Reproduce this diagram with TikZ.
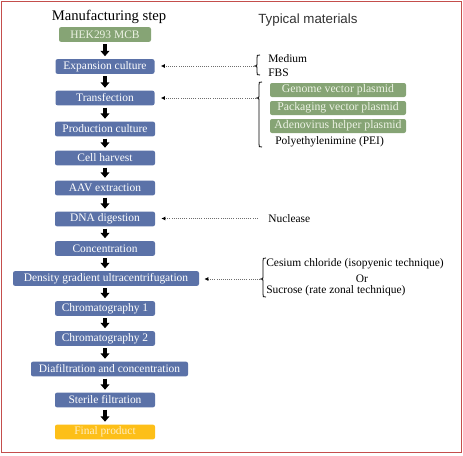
\documentclass[tikz,border=0pt]{standalone}
\usepackage{fontspec}
\setmainfont{Liberation Serif}
\newfontfamily\headsans{Liberation Sans}
\usetikzlibrary{arrows.meta}

\definecolor{stepblue}{RGB}{91,114,168}
\definecolor{matgreen}{RGB}{134,164,117}
\definecolor{matgreentext}{RGB}{236,242,228}
\definecolor{finalgold}{RGB}{253,191,24}
\definecolor{finalgoldtext}{RGB}{255,238,196}
\definecolor{framered}{RGB}{196,78,76}
\definecolor{dotgray}{RGB}{110,110,110}
\definecolor{headgray}{RGB}{50,50,50}

\begin{document}
\begin{tikzpicture}[x=0.75pt,y=0.75pt,yscale=-1,xscale=1,
	stepbox/.style={rectangle,rounded corners=1.5pt,fill=stepblue,text=white,inner sep=1pt,
		minimum width=75pt,minimum height=11pt,font=\fontsize{8.6}{10}\selectfont},
	plasmidbox/.style={rectangle,rounded corners=1.5pt,fill=matgreen,text=matgreentext,inner sep=1pt,
		minimum width=102pt,minimum height=10.5pt,font=\fontsize{8.8}{10}\selectfont},
	matlabel/.style={anchor=west,inner sep=0.75pt,font=\fontsize{8.6}{10}\selectfont},
	steparrow/.style={line width=2.3pt,-{Triangle[width=6.5pt,length=4pt]},shorten <=1.5pt,shorten >=2pt},
	matarrow/.style={densely dotted,draw=dotgray,line width=0.6pt,-{Latex[length=3pt,width=3pt,color=black]}}]
	\useasboundingbox (0,0) rectangle (463,455);
	
	%Frame
	\draw [framered,line width=1.1pt] (1.5,1.5) rectangle (461.5,452.5);
	
	% Headings
	\node (stephead) at (109,17) {\fontsize{11}{12}\selectfont Manufacturing step};
	\node [anchor=west,inner sep=0pt,text=headgray] (mathead) at (258,20) {\headsans\fontsize{10}{12}\selectfont Typical materials};
	
	% Manufacturing steps
	\node [stepbox,fill=matgreen,text=matgreentext,minimum width=69pt] (hek) at (105,34.5) {HEK293 MCB};
	\node [stepbox,minimum width=74.25pt] (expansion) at (105,66.5) {Expansion culture};
	\node [stepbox,minimum width=74.25pt] (transfection) at (105,98) {Transfection};
	\node [stepbox] (production) at (105,129) {Production culture};
	\node [stepbox] (harvest) at (105,158) {Cell harvest};
	\node [stepbox] (aav) at (105,188) {AAV extraction};
	\node [stepbox] (digestion) at (105,219) {DNA digestion};
	\node [stepbox] (concentration) at (105,248.5) {Concentration};
	\node [stepbox,minimum width=139.5pt] (density) at (106,278.5) {Density gradient ultracentrifugation};
	\node [stepbox] (chrom1) at (105,308.5) {Chromatography 1};
	\node [stepbox] (chrom2) at (105,338.5) {Chromatography 2};
	\node [stepbox,minimum width=117.75pt] (diafiltration) at (109.5,369) {Diafiltration and concentration};
	\node [stepbox] (sterile) at (105,400) {Sterile filtration};
	\node [stepbox,fill=finalgold,text=finalgoldtext] (final) at (105,432) {Final product};
	
	% Step arrows
	\draw [steparrow] (hek.south -| expansion.north) -- (expansion.north);
	\draw [steparrow] (expansion) -- (transfection);
	\draw [steparrow] (transfection) -- (production);
	\draw [steparrow] (production) -- (harvest);
	\draw [steparrow] (harvest) -- (aav);
	\draw [steparrow] (aav) -- (digestion);
	\draw [steparrow] (digestion) -- (concentration);
	\draw [steparrow] (concentration.south) -- (concentration.south |- density.north);
	\draw [steparrow] (chrom1.north |- density.south) -- (chrom1.north);
	\draw [steparrow] (chrom1) -- (chrom2);
	\draw [steparrow] (chrom2.south) -- (chrom2.south |- diafiltration.north);
	\draw [steparrow] (sterile.north |- diafiltration.south) -- (sterile.north);
	\draw [steparrow] (sterile) -- (final);
	
	% Typical materials
	\node [matlabel] (medium) at (267,59) {Medium};
	\node [matlabel] (fbs) at (267,73) {FBS};
	\node [plasmidbox] (genome) at (338,90) {Genome vector plasmid};
	\node [plasmidbox] (packaging) at (338,108) {Packaging vector plasmid};
	\node [plasmidbox] (adenovirus) at (338,126) {Adenovirus helper plasmid};
	\node [matlabel] (pei) at (274,142) {Polyethylenimine (PEI)};
	\node [matlabel] (nuclease) at (267,218.5) {Nuclease};
	\node [matlabel] (cesium) at (265,264) {Cesium chloride (isopyenic technique)};
	\node [inner sep=0.75pt,font=\fontsize{8.6}{10}\selectfont] (or) at (362,278.5) {Or};
	\node [matlabel] (sucrose) at (265,291) {Sucrose (rate zonal technique)};
	
	%Brace: Medium / FBS
	\draw [line width=0.6pt] (260,55) .. controls (257,55) and (257,55) .. (257,58) -- (257,64) .. controls (257,66) and (257,66) .. (254,66) .. controls (257,66) and (257,66) .. (257,68) -- (257,72) .. controls (257,75) and (257,75) .. (260,75) ;
	%Brace: plasmids
	\draw [line width=0.6pt] (262,82) .. controls (259,82) and (259,82) .. (259,85) -- (259,96) .. controls (259,98) and (259,98) .. (256,98) .. controls (259,98) and (259,98) .. (259,100) -- (259,144) .. controls (259,147) and (259,147) .. (262,147) ;
	%Brace: gradient media
	\draw [line width=0.6pt] (266,258) .. controls (263,258) and (263,258) .. (263,261) -- (263,277) .. controls (263,279) and (263,279) .. (260,279) .. controls (263,279) and (263,279) .. (263,281) -- (263,294) .. controls (263,297) and (263,297) .. (266,297) ;
	
	\coordinate (medbrace) at (254,66);
	\coordinate (plasbrace) at (256,98);
	\coordinate (gradbrace) at (260,279);
	
	% Material arrows
	\draw [matarrow,shorten >=4.5pt] (medbrace) -- (medbrace -| expansion.east);
	\draw [matarrow,shorten >=4.5pt] (plasbrace) -- (plasbrace -| transfection.east);
	\draw [matarrow,shorten <=7pt,shorten >=4.5pt] (nuclease.west) -- (nuclease.west -| digestion.east);
	\draw [matarrow,shorten >=3.75pt] (gradbrace) -- (gradbrace -| density.east);
	
\end{tikzpicture}
\end{document}
